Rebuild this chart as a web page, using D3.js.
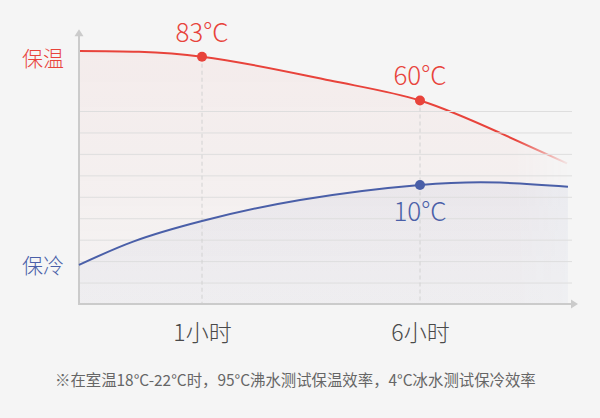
<!DOCTYPE html>
<html><head><meta charset="utf-8">
<script src="https://cdn.jsdelivr.net/npm/d3@7/dist/d3.min.js"></script>
<style>
html,body{margin:0;padding:0;background:#f5f5f5;}
svg{display:block;}
</style></head>
<body>
<svg id="chart" width="600" height="418"></svg>
<script>
// ---- data ----
const hoursWarm = [0, 1, 3.94, 6, 7.83, 9.37];
const levelWarm = [11.80, 11.53, 10.42, 9.49, 7.98, 6.56];
const hoursCold = [0, 0.44, 1, 3.25, 6, 7.83, 9.39];
const levelCold = [1.82, 2.91, 3.87, 4.85, 5.55, 5.66, 5.47];
const xTickValues = [1, 6];
const xTickLabels = ["1小时", "6小时"];
const gridLevels = [1, 2, 3, 4, 5, 6, 7, 8, 9];
const warmMarks = [{h: 1, v: 11.53, label: "83°C"}, {h: 6, v: 9.49, label: "60°C"}];
const coldMarks = [{h: 6, v: 5.55, label: "10°C"}];
const seriesNames = ["保温", "保冷"];
const footnote = "※在室温18°C-22°C时，95°C沸水测试保温效率，4°C冰水测试保冷效率";

const RED = "#e8433b", BLUE = "#4a5fa8";
const FONT = "'Noto Sans CJK SC','Noto Sans',sans-serif";

const svg = d3.select("#chart");
const x = d3.scaleLinear().domain([0, 1, 6, 9.62]).range([79, 202, 420, 578]);
const y = d3.scaleLinear().domain([0, 9]).range([304, 111]);
const yTop = 12.77;

const defs = svg.append("defs");
const gRed = defs.append("linearGradient").attr("id", "gRed").attr("x1", 0).attr("y1", 0).attr("x2", 0).attr("y2", 1);
gRed.append("stop").attr("offset", "0%").attr("stop-color", RED).attr("stop-opacity", 0.05);
gRed.append("stop").attr("offset", "100%").attr("stop-color", RED).attr("stop-opacity", 0.01);
const gBlue = defs.append("linearGradient").attr("id", "gBlue").attr("x1", 0).attr("y1", 0).attr("x2", 0).attr("y2", 1);
gBlue.append("stop").attr("offset", "0%").attr("stop-color", BLUE).attr("stop-opacity", 0.06);
gBlue.append("stop").attr("offset", "100%").attr("stop-color", BLUE).attr("stop-opacity", 0.035);
const gFade = defs.append("linearGradient").attr("id", "gFade").attr("gradientUnits", "userSpaceOnUse")
  .attr("x1", 515).attr("y1", 0).attr("x2", 572).attr("y2", 0);
gFade.append("stop").attr("offset", "0%").attr("stop-color", "#fff");
gFade.append("stop").attr("offset", "100%").attr("stop-color", "#000");
defs.append("mask").attr("id", "mFade").attr("maskUnits", "userSpaceOnUse")
  .attr("x", 0).attr("y", 0).attr("width", 600).attr("height", 418)
  .append("rect").attr("x", 0).attr("y", 0).attr("width", 600).attr("height", 418).attr("fill", "url(#gFade)");

const warm = hoursWarm.map((h, i) => ({h, v: levelWarm[i]}));
const cold = hoursCold.map((h, i) => ({h, v: levelCold[i]}));

const curve = d3.curveNatural;
const area = d3.area().x(d => x(d.h)).y0(y(0)).y1(d => y(d.v)).curve(curve);
const line = d3.line().x(d => x(d.h)).y(d => y(d.v)).curve(curve);

const warmG = svg.append("g").attr("mask", "url(#mFade)");
warmG.append("path").attr("d", area(warm)).attr("fill", "url(#gRed)");

svg.append("path").attr("d", area(cold)).attr("fill", "url(#gBlue)");

// grid
svg.append("g").attr("transform", "translate(79,0)")
  .call(d3.axisRight(y).tickValues(gridLevels).tickSize(493).tickFormat(""))
  .call(g => g.select(".domain").remove())
  .call(g => g.selectAll(".tick line").attr("stroke", "#dedede").attr("stroke-width", 1));

// dashed verticals
svg.append("g").selectAll("line").data(xTickValues).join("line")
  .attr("x1", d => x(d)).attr("x2", d => x(d))
  .attr("y1", (d, i) => y(warmMarks[i].v)).attr("y2", y(0))
  .attr("stroke", "#d2d2d2").attr("stroke-dasharray", "4,3").attr("stroke-width", 1);

// axes
const axisColor = "#cbcbcb";
svg.append("line").attr("x1", x(0)).attr("x2", x(0)).attr("y1", y(0) + 1).attr("y2", y(yTop) + 5)
  .attr("stroke", axisColor).attr("stroke-width", 2);
svg.append("path").attr("d", `M${x(0)},${y(yTop) - 1}L${x(0) - 4.5},${y(yTop) + 6}L${x(0) + 4.5},${y(yTop) + 6}Z`).attr("fill", axisColor);
svg.append("line").attr("x1", x(0) - 1).attr("x2", x(9.62) - 5).attr("y1", y(0)).attr("y2", y(0))
  .attr("stroke", axisColor).attr("stroke-width", 2);
svg.append("path").attr("d", `M${x(9.62)},${y(0)}L${x(9.62) - 7},${y(0) - 4.5}L${x(9.62) - 7},${y(0) + 4.5}Z`).attr("fill", axisColor);

// lines
warmG.append("path").attr("d", line(warm)).attr("fill", "none").attr("stroke", RED).attr("stroke-width", 2);
svg.append("path").attr("d", line(cold)).attr("fill", "none").attr("stroke", BLUE).attr("stroke-width", 2);

// markers
svg.append("g").selectAll("circle").data(warmMarks).join("circle")
  .attr("cx", d => x(d.h)).attr("cy", d => y(d.v)).attr("r", 5).attr("fill", RED);
svg.append("g").selectAll("circle").data(coldMarks).join("circle")
  .attr("cx", d => x(d.h)).attr("cy", d => y(d.v)).attr("r", 5).attr("fill", BLUE);

// value labels
svg.append("g").selectAll("text").data(warmMarks).join("text")
  .attr("x", d => x(d.h)).attr("y", d => y(d.v) - 15)
  .attr("text-anchor", "middle").attr("font-family", FONT).attr("font-weight", 300).attr("font-size", 26).attr("fill", RED)
  .text(d => d.label);
svg.append("g").selectAll("text").data(coldMarks).join("text")
  .attr("x", d => x(d.h)).attr("y", d => y(d.v) + 36)
  .attr("text-anchor", "middle").attr("font-family", FONT).attr("font-weight", 300).attr("font-size", 26).attr("fill", BLUE)
  .text(d => d.label);

// series names
svg.append("text").attr("x", 22).attr("y", 66).attr("font-family", FONT).attr("font-weight", 300).attr("font-size", 21).attr("fill", RED).text(seriesNames[0]);
svg.append("text").attr("x", 22).attr("y", 273).attr("font-family", FONT).attr("font-weight", 300).attr("font-size", 21).attr("fill", BLUE).text(seriesNames[1]);

// x tick labels
svg.append("g").attr("transform", `translate(0,${y(0)})`)
  .call(d3.axisBottom(x).tickValues(xTickValues).tickSize(0).tickPadding(0).tickFormat((d, i) => xTickLabels[i]))
  .call(g => g.select(".domain").remove())
  .call(g => g.selectAll("text").attr("dy", 0).attr("y", 37).attr("font-family", FONT).attr("font-weight", 300).attr("font-size", 23).attr("fill", "#4a4a4a"));

// footnote
svg.append("text").attr("x", 55).attr("y", 386).attr("font-family", FONT).attr("font-size", 15.4).attr("fill", "#666")
  .text(footnote);
</script>
</body></html>
